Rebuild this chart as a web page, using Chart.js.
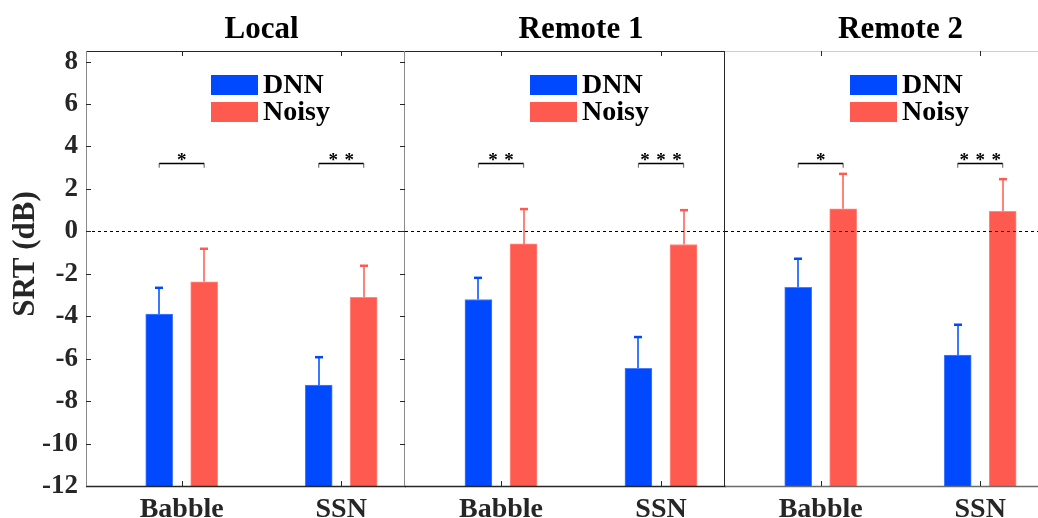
<!DOCTYPE html>
<html><head><meta charset="utf-8">
<script src="https://cdn.jsdelivr.net/npm/chart.js@4.4.0/dist/chart.umd.min.js"></script>
<style>
html,body{margin:0;padding:0;background:#fff;overflow:hidden;width:1038px;height:518px;position:relative;}
canvas{position:absolute;top:0;}
</style></head><body>
<canvas id="c0" width="406" height="518" style="left:0px"></canvas>
<canvas id="c1" width="321" height="518" style="left:405px"></canvas>
<canvas id="c2" width="320" height="518" style="left:725px"></canvas>
<script>
// ---------------- data ----------------
const panelTitles = ["Local", "Remote 1", "Remote 2"];
const categories = ["Babble", "SSN"];
const seriesNames = ["DNN", "Noisy"];
const yTicks = [-12, -10, -8, -6, -4, -2, 0, 2, 4, 6, 8];

const dnnLocal     = [-3.90, -7.24];
const noisyLocal   = [-2.38, -3.11];
const dnnRemote1   = [-3.21, -6.46];
const noisyRemote1 = [-0.59, -0.62];
const dnnRemote2   = [-2.64, -5.83];
const noisyRemote2 = [1.06, 0.95];

const dnnErrLocal     = [1.24, 1.31];
const noisyErrLocal   = [1.56, 1.49];
const dnnErrRemote1   = [1.02, 1.48];
const noisyErrRemote1 = [1.64, 1.62];
const dnnErrRemote2   = [1.35, 1.43];
const noisyErrRemote2 = [1.65, 1.51];

const sigLocal   = ["*", "**"];
const sigRemote1 = ["**", "***"];
const sigRemote2 = ["*", "***"];
const sigLevel = 3.2;
const sigDrop = 0.2;
const zeroLine = 0;

// ---------------- style ----------------
const FONT = "'Liberation Serif', 'Times New Roman', serif";
const BLUE = "#0049ff", RED = "#ff5a4f";
const BLUE_ERR = "#3a78ff", RED_ERR = "#ff8378";
const GROUP_OFF = 0.141;
const X_MIN = 0.4, X_MAX = 2.4, Y_MIN = -12, Y_MAX = 8.5;

const panels = [
  {dnn: dnnLocal, noisy: noisyLocal, dErr: dnnErrLocal, nErr: noisyErrLocal, sig: sigLocal},
  {dnn: dnnRemote1, noisy: noisyRemote1, dErr: dnnErrRemote1, nErr: noisyErrRemote1, sig: sigRemote1},
  {dnn: dnnRemote2, noisy: noisyRemote2, dErr: dnnErrRemote2, nErr: noisyErrRemote2, sig: sigRemote2}
];

function makePlugin(pi) {
  const p = panels[pi];
  return {
    id: 'extras' + pi,
    afterDatasetsDraw(chart) {
      const ctx = chart.ctx, a = chart.chartArea;
      const xs = chart.scales.x, ys = chart.scales.y;
      ctx.save();
      // error bars
      const drawErr = (vals, errs, off, lineCol, capCol) => {
        vals.forEach((v, i) => {
          const x = Math.round(xs.getPixelForValue(i + 1 + off));
          const y0 = ys.getPixelForValue(v);
          const y1 = ys.getPixelForValue(v + errs[i]);
          ctx.strokeStyle = lineCol; ctx.lineWidth = 2;
          ctx.beginPath(); ctx.moveTo(x, y0); ctx.lineTo(x, y1); ctx.stroke();
          ctx.strokeStyle = capCol; ctx.lineWidth = 2.5;
          ctx.beginPath(); ctx.moveTo(x - 4, y1); ctx.lineTo(x + 4, y1); ctx.stroke();
        });
      };
      drawErr(p.dnn, p.dErr, -GROUP_OFF, BLUE_ERR, BLUE);
      drawErr(p.noisy, p.nErr, GROUP_OFF, RED_ERR, RED);

      // zero dashed line
      const yz = Math.round(ys.getPixelForValue(zeroLine)) + 0.5;
      ctx.strokeStyle = "#000"; ctx.lineWidth = 1; ctx.setLineDash([3, 3]);
      ctx.beginPath(); ctx.moveTo(a.left, yz); ctx.lineTo(a.right, yz); ctx.stroke();
      ctx.setLineDash([]);

      // significance brackets
      const yb = Math.round(ys.getPixelForValue(sigLevel)) + 0.5;
      const yd = ys.getPixelForValue(sigLevel - sigDrop);
      p.sig.forEach((s, i) => {
        const xl = xs.getPixelForValue(i + 1 - GROUP_OFF);
        const xr = xs.getPixelForValue(i + 1 + GROUP_OFF);
        ctx.strokeStyle = "#777"; ctx.lineWidth = 1.2;
        ctx.beginPath(); ctx.moveTo(xl, yb); ctx.lineTo(xl, yd); ctx.moveTo(xr, yb); ctx.lineTo(xr, yd); ctx.stroke();
        ctx.strokeStyle = "#000"; ctx.lineWidth = 1.5;
        ctx.beginPath(); ctx.moveTo(xl, yb); ctx.lineTo(xr, yb); ctx.stroke();
        ctx.fillStyle = "#000"; ctx.font = "bold 19px " + FONT;
        ctx.textAlign = "center"; ctx.textBaseline = "alphabetic";
        const n = s.length, cx = (xl + xr) / 2, gap = 16;
        for (let k = 0; k < n; k++) {
          ctx.fillText("*", cx + (k - (n - 1) / 2) * gap, yb + 2);
        }
      });

      // legend
      const lx = a.left + 125;
      const cols = [BLUE, RED];
      const tops = [75, 102];
      chart.data.datasets.forEach((ds, k) => {
        ctx.fillStyle = cols[k];
        ctx.fillRect(lx, tops[k], 47, 20);
        ctx.fillStyle = "#000"; ctx.font = "bold 28px " + FONT;
        ctx.textAlign = "left"; ctx.textBaseline = "middle";
        ctx.fillText(ds.label, lx + 52, tops[k] + 11);
      });

      // box & ticks
      const L = a.left, R = a.right, T = a.top, B = a.bottom;
      ctx.lineWidth = 1;
      ctx.strokeStyle = pi === 2 ? "#cfcfcf" : "#262626";
      ctx.beginPath(); ctx.moveTo(L, T + 0.5); ctx.lineTo(R + 1, T + 0.5); ctx.stroke();
      ctx.strokeStyle = pi === 2 ? "#6a6a6a" : "#262626";
      ctx.lineWidth = 1.5;
      ctx.beginPath(); ctx.moveTo(L, B + 0.5); ctx.lineTo(R + 1, B + 0.5); ctx.stroke();
      ctx.lineWidth = 1;
      if (pi === 0) {
        ctx.strokeStyle = "#8a8a8a";
        ctx.beginPath(); ctx.moveTo(L + 0.5, T); ctx.lineTo(L + 0.5, B); ctx.stroke();
        ctx.beginPath(); ctx.moveTo(R - 0.5, T); ctx.lineTo(R - 0.5, B); ctx.stroke();
        ctx.strokeStyle = "#262626";
        yTicks.forEach(t => {
          const y = Math.round(ys.getPixelForValue(t)) + 0.5;
          ctx.beginPath(); ctx.moveTo(L, y); ctx.lineTo(L + 5, y); ctx.stroke();
          ctx.beginPath(); ctx.moveTo(R - 5, y); ctx.lineTo(R, y); ctx.stroke();
        });
      }
      if (pi === 1) {
        ctx.strokeStyle = "#262626";
        ctx.beginPath(); ctx.moveTo(R - 0.5, T); ctx.lineTo(R - 0.5, B); ctx.stroke();
      }
      ctx.strokeStyle = "#262626";
      categories.forEach((c, i) => {
        const x = Math.round(xs.getPixelForValue(i + 1)) + 0.5;
        ctx.beginPath(); ctx.moveTo(x, T); ctx.lineTo(x, T + 5); ctx.stroke();
        ctx.beginPath(); ctx.moveTo(x, B); ctx.lineTo(x, B - 5); ctx.stroke();
      });

      // title
      ctx.fillStyle = "#000"; ctx.font = "bold 31px " + FONT;
      ctx.textAlign = "center"; ctx.textBaseline = "alphabetic";
      ctx.fillText(panelTitles[pi], (L + R) / 2 + 16, 38);

      // y title
      if (pi === 0) {
        ctx.save();
        ctx.translate(34, 254);
        ctx.rotate(-Math.PI / 2);
        ctx.fillStyle = "#262626"; ctx.font = "bold 31px " + FONT;
        ctx.textAlign = "center"; ctx.textBaseline = "alphabetic";
        ctx.fillText("SRT (dB)", 0, 0);
        ctx.restore();
      }
      ctx.restore();
    }
  };
}

function buildChart(pi) {
  const p = panels[pi];
  const mk = (vals, off) => vals.map((v, i) => ({x: i + 1 + off, y: v}));
  new Chart(document.getElementById('c' + pi), {
    type: 'bar',
    data: {
      datasets: [
        {label: seriesNames[0], data: mk(p.dnn, -GROUP_OFF), backgroundColor: BLUE, borderColor: "#4a7dff", borderWidth: 1, base: Y_MIN, grouped: false, barThickness: 27},
        {label: seriesNames[1], data: mk(p.noisy, GROUP_OFF), backgroundColor: RED, borderColor: "#ff8a80", borderWidth: 1, base: Y_MIN, grouped: false, barThickness: 27}
      ]
    },
    options: {
      responsive: false,
      animation: false,
      events: [],
      layout: {padding: {left: 0, right: 1, top: 51, bottom: 0}},
      plugins: {
        legend: {display: false},
        tooltip: {enabled: false},
        title: {display: false}
      },
      scales: {
        x: {
          type: 'linear', min: X_MIN, max: X_MAX, offset: false, position: 'bottom',
          grid: {display: false, drawTicks: false},
          border: {display: false},
          afterBuildTicks: s => { s.ticks = categories.map((c, i) => ({value: i + 1})); },
          afterFit: s => { s.height = 32; s.paddingLeft = 0; s.paddingRight = 0; },
          ticks: {
            autoSkip: false, maxRotation: 0, padding: 7, color: "#262626",
            font: {family: FONT, size: 28, weight: 'bold'},
            callback: v => categories[v - 1]
          }
        },
        y: {
          min: Y_MIN, max: Y_MAX, display: pi === 0,
          grid: {display: false, drawTicks: false},
          border: {display: false},
          afterBuildTicks: s => { s.ticks = yTicks.map(v => ({value: v})); },
          afterFit: s => { s.width = pi === 0 ? 86 : 0; s.paddingTop = 0; s.paddingBottom = 0; },
          ticks: {
            padding: 8, color: "#262626",
            font: {family: FONT, size: 27, weight: 'bold'}
          }
        }
      }
    },
    plugins: [makePlugin(pi)]
  });
}
[0, 1, 2].forEach(buildChart);
</script>
</body></html>
